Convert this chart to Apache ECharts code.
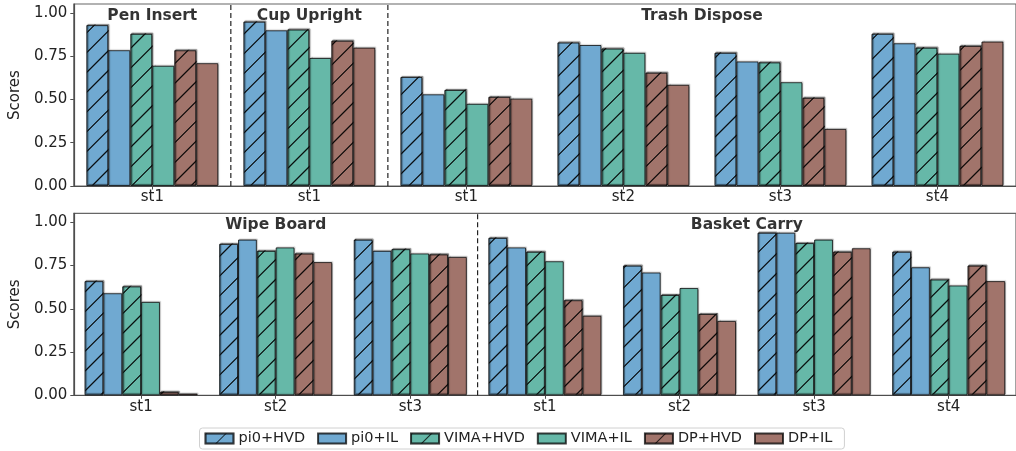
<!DOCTYPE html>
<html>
<head>
<meta charset="utf-8">
<script src="https://cdn.jsdelivr.net/npm/echarts@6/dist/echarts.min.js"></script>
<style>
  html, body { margin: 0; padding: 0; background: #fff; }
  #chart { width: 1016px; height: 451px; }
</style>
</head>
<body>
<div id="chart"></div>
<script>
// Methods (one bar per method in every group)
const methods = ['pi0+HVD', 'pi0+IL', 'VIMA+HVD', 'VIMA+IL', 'DP+HVD', 'DP+IL'];
const methodHatched = [true, false, true, false, true, false];
const methodColors = ['#70a9d1', '#70a9d1', '#66b8a8', '#66b8a8', '#a1746b', '#a1746b'];

// Upper panel: task of each group and its stage label
const topTasks = ['Pen Insert', 'Cup Upright', 'Trash Dispose', 'Trash Dispose', 'Trash Dispose', 'Trash Dispose'];
const topStages = ['st1', 'st1', 'st1', 'st2', 'st3', 'st4'];
const topPi0Hvd  = [0.93, 0.95, 0.63, 0.83, 0.77, 0.88];
const topPi0Il   = [0.785, 0.90, 0.53, 0.815, 0.72, 0.825];
const topVimaHvd = [0.88, 0.905, 0.555, 0.795, 0.715, 0.80];
const topVimaIl  = [0.695, 0.74, 0.475, 0.77, 0.60, 0.765];
const topDpHvd   = [0.785, 0.84, 0.515, 0.655, 0.51, 0.81];
const topDpIl    = [0.71, 0.80, 0.505, 0.585, 0.33, 0.835];

// Lower panel
const botTasks = ['Wipe Board', 'Wipe Board', 'Wipe Board', 'Basket Carry', 'Basket Carry', 'Basket Carry', 'Basket Carry'];
const botStages = ['st1', 'st2', 'st3', 'st1', 'st2', 'st3', 'st4'];
const botPi0Hvd  = [0.66, 0.875, 0.90, 0.91, 0.75, 0.94, 0.83];
const botPi0Il   = [0.59, 0.90, 0.835, 0.855, 0.71, 0.94, 0.74];
const botVimaHvd = [0.63, 0.835, 0.845, 0.83, 0.58, 0.88, 0.67];
const botVimaIl  = [0.54, 0.855, 0.82, 0.775, 0.62, 0.90, 0.635];
const botDpHvd   = [0.02, 0.82, 0.815, 0.55, 0.47, 0.83, 0.75];
const botDpIl    = [0.01, 0.77, 0.80, 0.46, 0.43, 0.85, 0.66];

// Y ticks
const yTicks = [0, 0.25, 0.5, 0.75, 1.0];
const yMax = 1.052;

const topValues = [topPi0Hvd, topPi0Il, topVimaHvd, topVimaIl, topDpHvd, topDpIl];
const botValues = [botPi0Hvd, botPi0Il, botVimaHvd, botVimaIl, botDpHvd, botDpIl];

const FONT = 'DejaVu Sans';
const AXIS_COLOR = '#4d4d4d';

// '/' hatch for the HVD bars
function hatchDecal() {
  return {
    symbol: 'rect',
    symbolSize: 1,
    color: 'rgba(0,0,0,0.75)',
    dashArrayX: [1, 0],
    dashArrayY: [1, 13],
    rotation: -Math.PI / 4
  };
}

function categoryKeys(tasks, stages) {
  return tasks.map((t, i) => t + '/' + stages[i]);
}

// Group centres for panel titles and boundaries for dashed separators
function taskLayout(tasks) {
  const groups = [];
  tasks.forEach((t, i) => {
    const last = groups[groups.length - 1];
    if (last && last.name === t) last.end = i;
    else groups.push({ name: t, start: i, end: i });
  });
  return {
    titles: groups.map(g => ({ name: g.name, value: [(g.start + g.end) / 2, 0.985] })),
    separators: groups.slice(1).map(g => g.start - 0.5)
  };
}

const grids = [
  { left: 66.7, right: -8.3, top: 4, height: 182 },
  { left: 66.7, right: -8.3, top: 213.3, height: 182 }
];

const panels = [
  { tasks: topTasks, stages: topStages, values: topValues },
  { tasks: botTasks, stages: botStages, values: botValues }
];

const xAxes = [];
const yAxes = [];
const series = [];

panels.forEach((p, gi) => {
  const n = p.tasks.length;
  xAxes.push({
    type: 'category',
    gridIndex: gi,
    data: categoryKeys(p.tasks, p.stages),
    boundaryGap: true,
    axisLine: { onZero: false, lineStyle: { color: AXIS_COLOR, width: 1.2 } },
    axisTick: { show: true, alignWithLabel: true, length: 3.5, lineStyle: { color: AXIS_COLOR } },
    axisLabel: {
      margin: 4,
      fontFamily: FONT, fontSize: 15, color: '#222',
      formatter: v => v.split('/')[1]
    },
    splitLine: { show: false }
  });
  xAxes.push({
    type: 'value', gridIndex: gi, min: -0.5, max: n - 0.5, show: false
  });
  yAxes.push({
    type: 'value', gridIndex: gi, min: 0, max: yMax,
    name: 'Scores', nameLocation: 'middle', nameGap: 46,
    nameTextStyle: { fontFamily: FONT, fontSize: 15, color: '#222' },
    axisLine: { show: true, onZero: false, lineStyle: { color: AXIS_COLOR, width: 1.2 } },
    axisTick: { show: true, length: 3.5, customValues: yTicks, lineStyle: { color: AXIS_COLOR } },
    axisLabel: {
      customValues: yTicks, margin: 6.5,
      fontFamily: FONT, fontSize: 15, color: '#222',
      formatter: v => v.toFixed(2)
    },
    splitLine: { show: false }
  });

  const catX = gi * 2;
  const valX = gi * 2 + 1;

  methods.forEach((m, si) => {
    const itemStyle = {
      color: methodColors[si],
      borderColor: methodHatched[si] ? 'rgba(0,0,0,0.5)' : 'rgba(0,0,0,0.75)',
      borderWidth: 1,
      shadowColor: 'rgba(0,0,0,0.22)',
      shadowOffsetX: 1,
      shadowOffsetY: -1,
      shadowBlur: 1
    };
    if (methodHatched[si]) itemStyle.decal = hatchDecal();
    series.push({
      name: m,
      type: 'bar',
      xAxisIndex: catX,
      yAxisIndex: gi,
      data: p.values[si],
      barGap: '0%',
      barCategoryGap: '16%',
      itemStyle: itemStyle,
      emphasis: { disabled: true },
      z: 2
    });
  });

  const layout = taskLayout(p.tasks);
  layout.separators.forEach(x => {
    series.push({
      type: 'line',
      xAxisIndex: valX,
      yAxisIndex: gi,
      data: [[x, 0], [x, yMax]],
      symbol: 'none',
      silent: true,
      lineStyle: { color: '#222', width: 1.2, type: [5, 3] },
      z: 3
    });
  });

  series.push({
    type: 'scatter',
    xAxisIndex: valX,
    yAxisIndex: gi,
    data: layout.titles,
    symbolSize: 1,
    silent: true,
    itemStyle: { color: 'transparent' },
    label: {
      show: true,
      position: 'inside',
      formatter: d => d.name,
      fontFamily: FONT, fontWeight: 'bold', fontSize: 15.5, color: '#000'
    },
    z: 5
  });
});

const chart = echarts.init(document.getElementById('chart'), null, { renderer: 'canvas' });
chart.setOption({
  animation: false,
  backgroundColor: '#fff',
  grid: grids.map(g => Object.assign({
    show: true, borderColor: '#666', borderWidth: 1.2, backgroundColor: 'transparent'
  }, g)),
  xAxis: xAxes,
  yAxis: yAxes,
  legend: {
    data: methods,
    left: 199.5,
    top: 428,
    padding: [3, 12, 3, 5],
    itemGap: 12,
    itemWidth: 28,
    itemHeight: 10,
    icon: 'rect',
    borderColor: '#d0d0d0',
    borderWidth: 1,
    borderRadius: 3,
    textStyle: { fontFamily: FONT, fontSize: 14.5, color: '#222' }
  },
  series: series
});
</script>
</body>
</html>
